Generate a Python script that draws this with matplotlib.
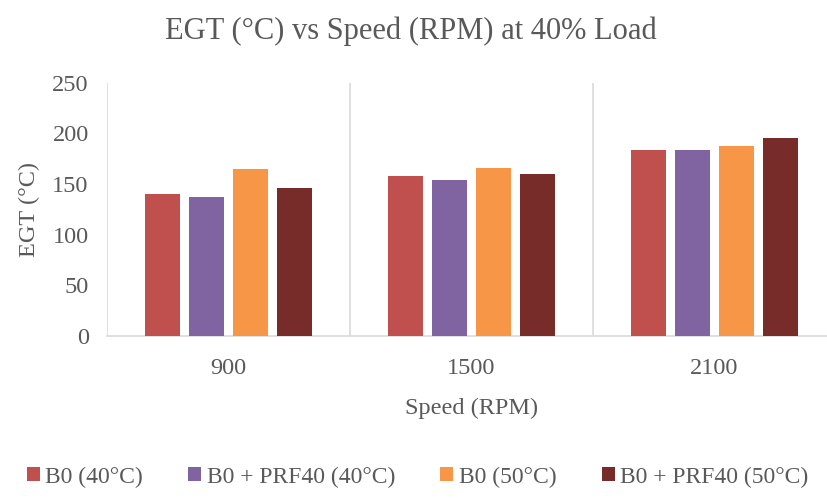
import numpy as np
import matplotlib
matplotlib.use('Agg')
import matplotlib.pyplot as plt

plt.rcParams['font.family'] = ['Liberation Serif', 'DejaVu Serif']

speeds = ['900', '1500', '2100']
series = ['B0 (40°C)', 'B0 + PRF40 (40°C)', 'B0 (50°C)', 'B0 + PRF40 (50°C)']
b0_40 = [140, 158.5, 183.5]
prf40_40 = [137, 154, 184]
b0_50 = [165, 165.5, 188]
prf40_50 = [146, 160.5, 196]
colors = ['#C0504D', '#8064A2', '#F79646', '#772C2A']

fig = plt.figure(figsize=(8.27, 4.98), dpi=100)
ax = fig.add_axes([0.129, 0.325, 0.8815, 0.5087])

x = np.arange(len(speeds))
w = 0.143
step = 0.181
for i, vals in enumerate([b0_40, prf40_40, b0_50, prf40_50]):
    ax.bar(x + (i - 1.5) * step, vals, width=w, color=colors[i], label=series[i], zorder=3)

ax.set_xlim(-0.5, 2.5)
ax.set_ylim(0, 250)
ax.set_yticks(np.arange(0, 251, 50))
ax.set_xticks(x)
ax.set_xticklabels(speeds)

# category separators
for b in [-0.5, 0.5, 1.5]:
    ax.axvline(b, color='#D9D9D9', lw=1.2, zorder=1)

for s in ['top', 'right', 'left']:
    ax.spines[s].set_visible(False)
ax.spines['bottom'].set_color('#D9D9D9')
ax.spines['bottom'].set_linewidth(1.2)

ax.tick_params(axis='both', length=0, labelsize=17.5, labelcolor='#595959')
ax.tick_params(axis='y', pad=13)
ax.tick_params(axis='x', pad=16)
ax.set_xlabel('Speed (RPM)', fontsize=17.5, color='#595959', labelpad=13)
ax.set_ylabel('EGT (°C)', fontsize=17.5, color='#595959', labelpad=9)

fig.text(0.497, 0.938, 'EGT (°C) vs Speed (RPM) at 40% Load', ha='center', va='center',
         fontsize=22, color='#595959')

fig.legend(loc='center', bbox_to_anchor=(0.505, 0.042), ncol=4, frameon=False,
           fontsize=17, handlelength=0.55, handleheight=0.55, handletextpad=0.25,
           columnspacing=1.9, labelcolor='#595959')

fig.savefig('out.png', dpi=100)
